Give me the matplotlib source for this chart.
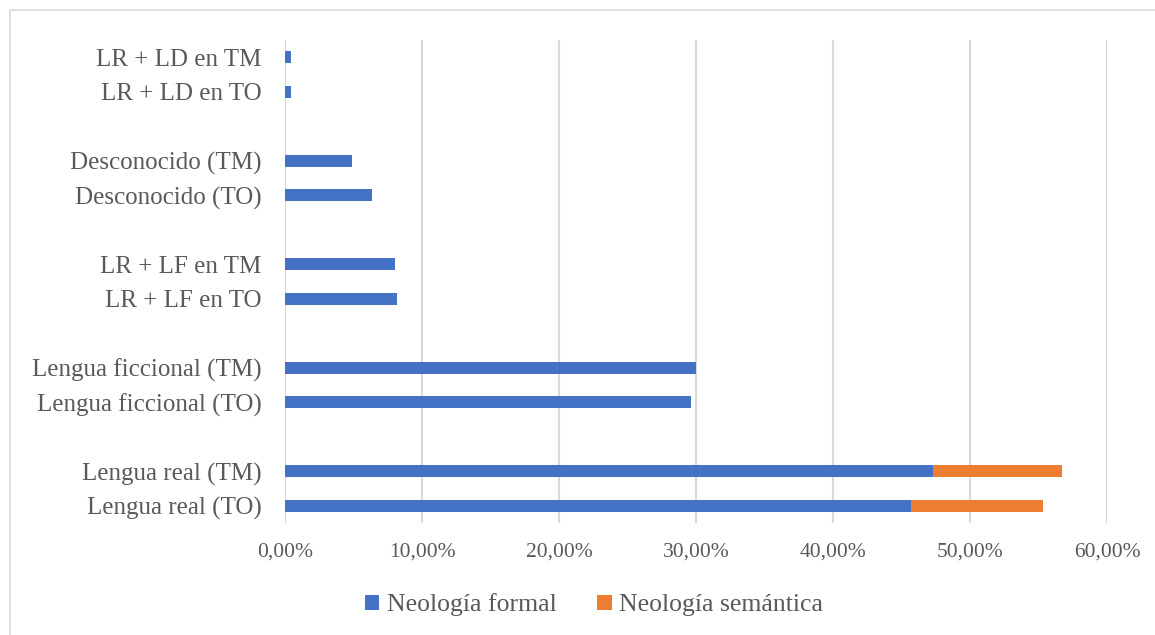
import numpy as np
import matplotlib.pyplot as plt
from matplotlib.patches import Rectangle

# Datos (de abajo hacia arriba); '' = hueco entre grupos
categorias = ['Lengua real (TO)', 'Lengua real (TM)', '',
              'Lengua ficcional (TO)', 'Lengua ficcional (TM)', '',
              'LR + LF en TO', 'LR + LF en TM', '',
              'Desconocido (TO)', 'Desconocido (TM)', '',
              'LR + LD en TO', 'LR + LD en TM']
formal = [45.7, 47.3, 0, 29.6, 30.0, 0, 8.15, 8.05, 0, 6.35, 4.9, 0, 0.45, 0.45]
semantica = [9.6, 9.4, 0, 0, 0, 0, 0, 0, 0, 0, 0, 0, 0, 0]
ticks_x = [0, 10, 20, 30, 40, 50, 60]

azul = '#4472C4'
naranja = '#ED7D31'
gris = '#595959'

plt.rcParams['font.family'] = ['Liberation Serif', 'DejaVu Serif']

fig = plt.figure(figsize=(11.55, 6.35), dpi=100)
ax = fig.add_axes([285 / 1155, 1 - 523 / 635, (1107 - 285) / 1155, (523 - 40) / 635])

y = np.arange(len(categorias))
ax.barh(y, formal, height=0.35, color=azul, label='Neología formal', zorder=3)
ax.barh(y, semantica, left=formal, height=0.35, color=naranja,
        label='Neología semántica', zorder=3)

ax.set_ylim(-0.5, len(categorias) - 0.5)
ax.set_xlim(0, 60)
ax.set_yticks(y)
ax.set_yticklabels(categorias, fontsize=18, color=gris)
ax.set_xticks(ticks_x)
ax.set_xticklabels([f'{v:.2f}%'.replace('.', ',') for v in ticks_x], fontsize=15.5, color=gris)
ax.tick_params(length=0)
ax.tick_params(axis='y', pad=17)
ax.tick_params(axis='x', pad=14)
for s in ax.spines.values():
    s.set_visible(False)
ax.grid(axis='x', color='#d9d9d9', linewidth=1.5, zorder=0)

leg = ax.legend(loc='center', bbox_to_anchor=(594 / 1155, 1 - 605 / 635),
                bbox_transform=fig.transFigure, ncol=2, frameon=False,
                fontsize=18.5, handlelength=0.55, handleheight=0.55,
                handletextpad=0.3, columnspacing=1.6)
for t in leg.get_texts():
    t.set_color(gris)

# Borde del área del gráfico
fig.patches.append(Rectangle((10 / 1155, -0.01), 1.2, 1 - 10 / 635 + 0.01,
                             transform=fig.transFigure, fill=False,
                             edgecolor='#d9d9d9', linewidth=1.2))

fig.savefig('out.png', dpi=100)
